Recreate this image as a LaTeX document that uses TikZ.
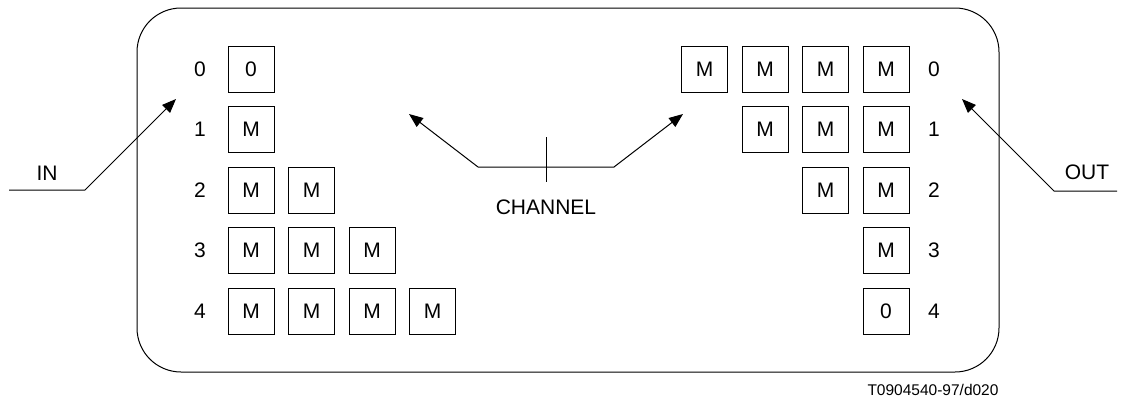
\documentclass[tikz,border=0pt]{standalone}
\usepackage{fontspec}
\setmainfont{Liberation Sans}
\usetikzlibrary{arrows.meta,positioning}

\begin{document}
\begin{tikzpicture}
  [x=1pt,y=-1pt,line width=1pt,font=\fontsize{21}{24}\selectfont,
   box/.style={draw,minimum size=46pt,inner sep=0pt},
   arr/.style={-{Triangle[length=14pt,width=11pt]}}]
  \useasboundingbox (0,0) rectangle (1125,399);
  \draw[rounded corners=44pt] (137,8) rectangle (999,372);

  % left side: row numbers and boxes
  \foreach \r in {0,...,4}
    \node (ln\r) at (200,69+60.5*\r) {\r};
  \node[box] (l00) at (251,69) {0};
  \foreach \r in {1,...,4}
    \foreach \c in {1,...,\r}
      \node[box] (l\r\c) at (251+60.5*\c-60.5,69+60.5*\r) {M};

  % right side: row numbers and boxes
  \foreach \r in {0,...,4}
    \node (rn\r) at (934,69+60.5*\r) {\r};
  \foreach \r/\n in {0/4,1/3,2/2,3/1}
    \foreach \c in {1,...,\n}
      \node[box] (r\r\c) at (886-60.5*\c+60.5,69+60.5*\r) {M};
  \node[box] (r41) at (886,311) {0};

  % in / out
  \node (in) at (47,173) {IN};
  \coordinate (inS) at (9,190);
  \coordinate (inB) at (85,190);
  \coordinate (inT) at (176,99);
  \draw[arr] (inS) -- (inB) -- (inT);

  \node (out) at (1087,172) {OUT};
  \coordinate (outS) at (1117,191);
  \coordinate (outB) at (1054,191);
  \coordinate (outT) at (962,99);
  \draw[arr] (outS) -- (outB) -- (outT);

  % channel
  \node (ch) at (546,207) {CHANNEL};
  \coordinate (chL) at (409,114);
  \coordinate (chA) at (478,167);
  \coordinate (chB) at (614,167);
  \coordinate (chR) at (683,114);
  \coordinate (tkT) at (546,137);
  \coordinate (tkB) at (546,182);
  \draw[arr] (chA) -- (chL);
  \draw[arr] (chA) -- (chB) -- (chR);
  \draw (tkT) -- (tkB);

  \node[font=\fontsize{15.5}{18}\selectfont] (tag) at (933,390) {T0904540-97/d020};
\end{tikzpicture}
\end{document}
